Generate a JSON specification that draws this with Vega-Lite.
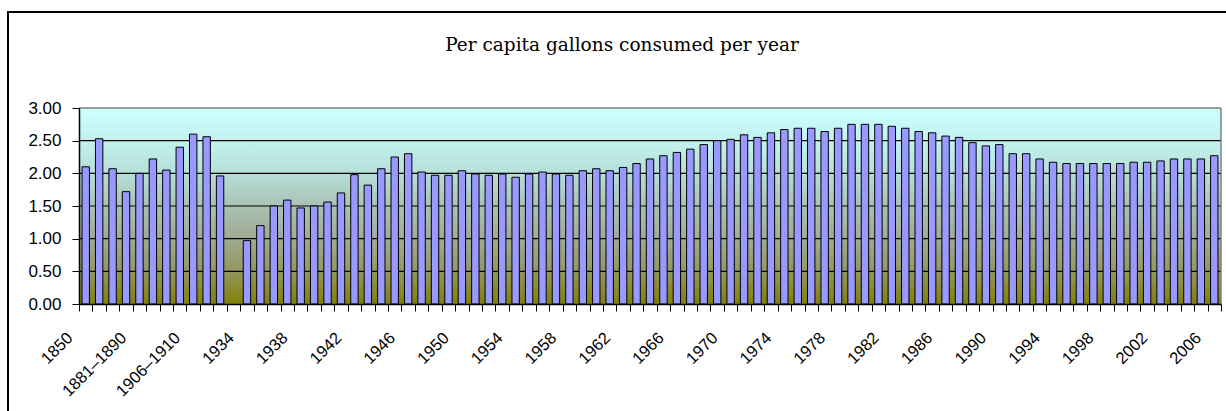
{
  "$schema": "https://vega.github.io/schema/vega-lite/v6.json",
  "description": "US per capita alcohol consumption (gallons of ethanol per year), 1850-2006, drawn inside a framed chart area.",
  "autosize": "none",
  "width": 1228,
  "height": 410,
  "padding": {"left": 8, "top": 12, "right": -10, "bottom": -11},
  "background": "white",
  "title": {
    "text": "Per capita gallons consumed per year",
    "anchor": "middle",
    "frame": "group",
    "orient": "top",
    "offset": -57,
    "baseline": "alphabetic",
    "font": "DejaVu Serif",
    "fontSize": 18.5,
    "fontWeight": "normal",
    "color": "#000000"
  },
  "config": {
    "view": {"stroke": "#000000", "strokeWidth": 2, "fill": null}
  },
  "data": {
    "values": [
      {"period": "1850", "gallons": 2.10},
      {"period": "1860", "gallons": 2.53},
      {"period": "1870", "gallons": 2.07},
      {"period": "1871–1880", "gallons": 1.72},
      {"period": "1881–1890", "gallons": 2.00},
      {"period": "1891–1895", "gallons": 2.22},
      {"period": "1896–1900", "gallons": 2.05},
      {"period": "1901–1905", "gallons": 2.40},
      {"period": "1906–1910", "gallons": 2.60},
      {"period": "1911–1915", "gallons": 2.56},
      {"period": "1916–1919", "gallons": 1.96},
      {"period": "1920–1933", "gallons": null},
      {"period": "1934", "gallons": 0.97},
      {"period": "1935", "gallons": 1.20},
      {"period": "1936", "gallons": 1.50},
      {"period": "1937", "gallons": 1.59},
      {"period": "1938", "gallons": 1.47},
      {"period": "1939", "gallons": 1.50},
      {"period": "1940", "gallons": 1.56},
      {"period": "1941", "gallons": 1.70},
      {"period": "1942", "gallons": 1.98},
      {"period": "1943", "gallons": 1.82},
      {"period": "1944", "gallons": 2.07},
      {"period": "1945", "gallons": 2.25},
      {"period": "1946", "gallons": 2.30},
      {"period": "1947", "gallons": 2.02},
      {"period": "1948", "gallons": 1.97},
      {"period": "1949", "gallons": 1.97},
      {"period": "1950", "gallons": 2.04},
      {"period": "1951", "gallons": 1.99},
      {"period": "1952", "gallons": 1.97},
      {"period": "1953", "gallons": 1.99},
      {"period": "1954", "gallons": 1.94},
      {"period": "1955", "gallons": 1.99},
      {"period": "1956", "gallons": 2.02},
      {"period": "1957", "gallons": 1.99},
      {"period": "1958", "gallons": 1.97},
      {"period": "1959", "gallons": 2.04},
      {"period": "1960", "gallons": 2.07},
      {"period": "1961", "gallons": 2.04},
      {"period": "1962", "gallons": 2.09},
      {"period": "1963", "gallons": 2.15},
      {"period": "1964", "gallons": 2.22},
      {"period": "1965", "gallons": 2.27},
      {"period": "1966", "gallons": 2.32},
      {"period": "1967", "gallons": 2.37},
      {"period": "1968", "gallons": 2.44},
      {"period": "1969", "gallons": 2.50},
      {"period": "1970", "gallons": 2.52},
      {"period": "1971", "gallons": 2.59},
      {"period": "1972", "gallons": 2.55},
      {"period": "1973", "gallons": 2.62},
      {"period": "1974", "gallons": 2.67},
      {"period": "1975", "gallons": 2.69},
      {"period": "1976", "gallons": 2.69},
      {"period": "1977", "gallons": 2.64},
      {"period": "1978", "gallons": 2.69},
      {"period": "1979", "gallons": 2.75},
      {"period": "1980", "gallons": 2.75},
      {"period": "1981", "gallons": 2.75},
      {"period": "1982", "gallons": 2.72},
      {"period": "1983", "gallons": 2.69},
      {"period": "1984", "gallons": 2.64},
      {"period": "1985", "gallons": 2.62},
      {"period": "1986", "gallons": 2.57},
      {"period": "1987", "gallons": 2.55},
      {"period": "1988", "gallons": 2.47},
      {"period": "1989", "gallons": 2.42},
      {"period": "1990", "gallons": 2.44},
      {"period": "1991", "gallons": 2.30},
      {"period": "1992", "gallons": 2.30},
      {"period": "1993", "gallons": 2.22},
      {"period": "1994", "gallons": 2.17},
      {"period": "1995", "gallons": 2.15},
      {"period": "1996", "gallons": 2.15},
      {"period": "1997", "gallons": 2.15},
      {"period": "1998", "gallons": 2.15},
      {"period": "1999", "gallons": 2.15},
      {"period": "2000", "gallons": 2.17},
      {"period": "2001", "gallons": 2.17},
      {"period": "2002", "gallons": 2.19},
      {"period": "2003", "gallons": 2.22},
      {"period": "2004", "gallons": 2.22},
      {"period": "2005", "gallons": 2.22},
      {"period": "2006", "gallons": 2.27}
    ]
  },
  "layer": [
    {
      "data": {"values": [{}]},
      "mark": {
        "type": "rect",
        "fill": {
          "gradient": "linear",
          "x1": 0, "y1": 0, "x2": 0, "y2": 1,
          "stops": [
            {"offset": 0, "color": "#CCFFFF"},
            {"offset": 0.17, "color": "#C2F2EE"},
            {"offset": 0.33, "color": "#B6DFD8"},
            {"offset": 0.5, "color": "#A9C2B4"},
            {"offset": 0.67, "color": "#A0AA90"},
            {"offset": 0.83, "color": "#939760"},
            {"offset": 1, "color": "#808008"}
          ]
        }
      },
      "encoding": {
        "x": {"datum": "1850", "type": "nominal", "bandPosition": 0},
        "x2": {"datum": "2006", "bandPosition": 1},
        "y": {"datum": 0, "type": "quantitative"},
        "y2": {"datum": 3}
      }
    },
    {
      "data": {"values": [{"level": 0.5}, {"level": 1}, {"level": 1.5}, {"level": 2}, {"level": 2.5}]},
      "mark": {"type": "rule", "stroke": "#000000", "strokeWidth": 1.2},
      "encoding": {
        "x": {"datum": "1850", "type": "nominal", "bandPosition": 0},
        "x2": {"datum": "2006", "bandPosition": 1},
        "y": {"field": "level", "type": "quantitative"}
      }
    },
    {
      "data": {"values": [{}]},
      "mark": {"type": "rule", "stroke": "#808080", "strokeWidth": 1.5},
      "encoding": {
        "x": {"datum": "1850", "type": "nominal", "bandPosition": 0},
        "x2": {"datum": "2006", "bandPosition": 1},
        "y": {"datum": 3, "type": "quantitative"}
      }
    },
    {
      "data": {"values": [{}]},
      "mark": {"type": "rule", "stroke": "#808080", "strokeWidth": 1.5},
      "encoding": {
        "x": {"datum": "2006", "type": "nominal", "bandPosition": 1},
        "y": {"datum": 0, "type": "quantitative"},
        "y2": {"datum": 3}
      }
    },
    {
      "mark": {"type": "bar", "width": {"band": 0.55}, "fill": "#9999FF", "stroke": "#000000", "strokeWidth": 1},
      "encoding": {
        "x": {
          "field": "period",
          "type": "nominal",
          "scale": {
            "domain": ["1850", "1860", "1870", "1871–1880", "1881–1890", "1891–1895", "1896–1900", "1901–1905", "1906–1910", "1911–1915", "1916–1919", "1920–1933",
              "1934", "1935", "1936", "1937", "1938", "1939", "1940", "1941", "1942", "1943", "1944", "1945", "1946", "1947", "1948", "1949",
              "1950", "1951", "1952", "1953", "1954", "1955", "1956", "1957", "1958", "1959", "1960", "1961", "1962", "1963", "1964", "1965",
              "1966", "1967", "1968", "1969", "1970", "1971", "1972", "1973", "1974", "1975", "1976", "1977", "1978", "1979", "1980", "1981",
              "1982", "1983", "1984", "1985", "1986", "1987", "1988", "1989", "1990", "1991", "1992", "1993", "1994", "1995", "1996", "1997",
              "1998", "1999", "2000", "2001", "2002", "2003", "2004", "2005", "2006"],
            "range": [71, 1213],
            "paddingInner": 0,
            "paddingOuter": 0
          },
          "axis": {
            "orient": "bottom",
            "offset": -118,
            "zindex": 2,
            "title": null,
            "domain": true,
            "domainColor": "#000000",
            "domainWidth": 1.5,
            "grid": false,
            "ticks": true,
            "tickBand": "extent",
            "tickSize": 7,
            "tickColor": "#000000",
            "tickWidth": 1,
            "labelAngle": -45,
            "labelAlign": "right",
            "labelBaseline": "middle",
            "labelOffset": -16,
            "labelPadding": 24,
            "labelFont": "Liberation Sans",
            "labelFontSize": 16.5,
            "labelColor": "#000000",
            "labelOverlap": false,
            "labelExpr": "(datum.value == '1850' || datum.value == '1881–1890' || datum.value == '1906–1910' || (toNumber(datum.value) >= 1934 && (toNumber(datum.value) - 1934) % 4 == 0)) ? datum.label : ''"
          }
        },
        "y": {
          "field": "gallons",
          "type": "quantitative",
          "scale": {"domain": [0, 3], "range": [292, 96], "nice": false, "zero": true},
          "axis": {
            "orient": "left",
            "offset": -71,
            "zindex": 2,
            "title": null,
            "domain": true,
            "domainColor": "#000000",
            "domainWidth": 1.5,
            "grid": false,
            "values": [0, 0.5, 1, 1.5, 2, 2.5, 3],
            "format": ".2f",
            "tickSize": 7,
            "tickColor": "#000000",
            "tickWidth": 1,
            "labelPadding": 11,
            "labelFont": "Liberation Sans",
            "labelFontSize": 17,
            "labelColor": "#000000",
            "labelAlign": "right",
            "labelBaseline": "middle"
          }
        },
        "y2": {"datum": 0}
      }
    }
  ]
}
